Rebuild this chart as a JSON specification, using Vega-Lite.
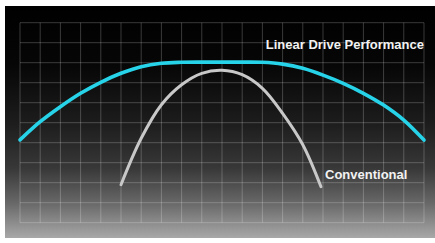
{
  "$schema": "https://vega.github.io/schema/vega-lite/v6.json",
  "width": 430,
  "height": 232,
  "autosize": "none",
  "padding": {"left": 5, "top": 6, "right": 0, "bottom": 5},
  "background": "#ffffff",
  "config": {
    "view": {
      "stroke": null,
      "fill": {
        "gradient": "linear",
        "x1": 0, "y1": 0, "x2": 0, "y2": 1,
        "stops": [
          {"offset": 0, "color": "#000000"},
          {"offset": 0.25, "color": "#060606"},
          {"offset": 0.5, "color": "#1c1c1c"},
          {"offset": 0.7, "color": "#383838"},
          {"offset": 0.85, "color": "#686868"},
          {"offset": 1, "color": "#a8a8a8"}
        ]
      }
    }
  },
  "datasets": {
    "vgrid": [
      {"x": 0}, {"x": 1}, {"x": 2}, {"x": 3}, {"x": 4}, {"x": 5}, {"x": 6}, {"x": 7}, {"x": 8}, {"x": 9}, {"x": 10},
      {"x": 11}, {"x": 12}, {"x": 13}, {"x": 14}, {"x": 15}, {"x": 16}, {"x": 17}, {"x": 18}, {"x": 19}, {"x": 20}
    ],
    "hgrid": [
      {"y": 0}, {"y": 1}, {"y": 2}, {"y": 3}, {"y": 4}, {"y": 5}, {"y": 6}, {"y": 7}, {"y": 8}, {"y": 9}, {"y": 10}
    ],
    "curves": [
      {"series": "Linear Drive Performance", "x": 0, "y": 4.14},
      {"series": "Linear Drive Performance", "x": 1, "y": 5.05},
      {"series": "Linear Drive Performance", "x": 2, "y": 5.8},
      {"series": "Linear Drive Performance", "x": 3, "y": 6.47},
      {"series": "Linear Drive Performance", "x": 4, "y": 7.02},
      {"series": "Linear Drive Performance", "x": 5, "y": 7.47},
      {"series": "Linear Drive Performance", "x": 6, "y": 7.8},
      {"series": "Linear Drive Performance", "x": 7, "y": 7.97},
      {"series": "Linear Drive Performance", "x": 8, "y": 8.02},
      {"series": "Linear Drive Performance", "x": 9, "y": 8.03},
      {"series": "Linear Drive Performance", "x": 10, "y": 8.03},
      {"series": "Linear Drive Performance", "x": 11, "y": 8.03},
      {"series": "Linear Drive Performance", "x": 12, "y": 8.02},
      {"series": "Linear Drive Performance", "x": 13, "y": 7.93},
      {"series": "Linear Drive Performance", "x": 14, "y": 7.72},
      {"series": "Linear Drive Performance", "x": 15, "y": 7.38},
      {"series": "Linear Drive Performance", "x": 16, "y": 6.97},
      {"series": "Linear Drive Performance", "x": 17, "y": 6.47},
      {"series": "Linear Drive Performance", "x": 18, "y": 5.88},
      {"series": "Linear Drive Performance", "x": 19, "y": 5.13},
      {"series": "Linear Drive Performance", "x": 20, "y": 4.13},
      {"series": "Conventional", "x": 5, "y": 1.9},
      {"series": "Conventional", "x": 6, "y": 4.22},
      {"series": "Conventional", "x": 7, "y": 5.9},
      {"series": "Conventional", "x": 8, "y": 6.9},
      {"series": "Conventional", "x": 9, "y": 7.47},
      {"series": "Conventional", "x": 10, "y": 7.62},
      {"series": "Conventional", "x": 11, "y": 7.4},
      {"series": "Conventional", "x": 12, "y": 6.72},
      {"series": "Conventional", "x": 13, "y": 5.47},
      {"series": "Conventional", "x": 14, "y": 3.9},
      {"series": "Conventional", "x": 14.9, "y": 1.8}
    ],
    "labels": [
      {"label": "Linear Drive Performance", "x": 20, "y": 8.67},
      {"label": "Conventional", "x": 15.1, "y": 2.17}
    ]
  },
  "layer": [
    {
      "data": {"name": "vgrid"},
      "mark": {"type": "rule", "color": "#ffffff", "opacity": 0.22, "strokeWidth": 1},
      "encoding": {
        "x": {"field": "x", "type": "quantitative", "scale": {"domain": [-0.7426, 20.545], "nice": false, "zero": false}, "axis": null},
        "y": {"datum": 0, "type": "quantitative", "scale": {"domain": [-0.765, 10.835], "nice": false, "zero": false}, "axis": null},
        "y2": {"datum": 10}
      }
    },
    {
      "data": {"name": "hgrid"},
      "mark": {"type": "rule", "color": "#ffffff", "opacity": 0.22, "strokeWidth": 1},
      "encoding": {
        "y": {"field": "y", "type": "quantitative", "scale": {"domain": [-0.765, 10.835], "nice": false, "zero": false}, "axis": null},
        "x": {"datum": 0, "type": "quantitative", "scale": {"domain": [-0.7426, 20.545], "nice": false, "zero": false}, "axis": null},
        "x2": {"datum": 20}
      }
    },
    {
      "data": {"name": "curves"},
      "mark": {"type": "line", "interpolate": "catmull-rom", "strokeCap": "round", "strokeJoin": "round"},
      "encoding": {
        "x": {"field": "x", "type": "quantitative", "scale": {"domain": [-0.7426, 20.545], "nice": false, "zero": false}, "axis": null},
        "y": {"field": "y", "type": "quantitative", "scale": {"domain": [-0.765, 10.835], "nice": false, "zero": false}, "axis": null},
        "detail": {"field": "series"},
        "color": {"field": "series", "type": "nominal", "scale": {"domain": ["Linear Drive Performance", "Conventional"], "range": ["#27d3e8", "#c8c8c8"]}, "legend": null},
        "strokeWidth": {"field": "series", "type": "nominal", "scale": {"domain": ["Linear Drive Performance", "Conventional"], "range": [3.6, 3]}, "legend": null}
      }
    },
    {
      "data": {"name": "labels"},
      "transform": [{"filter": "datum.label === 'Linear Drive Performance'"}],
      "mark": {"type": "text", "font": "Liberation Sans", "fontWeight": "bold", "fontSize": 13, "baseline": "alphabetic", "align": "right", "color": "#f2f2f2"},
      "encoding": {
        "x": {"field": "x", "type": "quantitative", "scale": {"domain": [-0.7426, 20.545], "nice": false, "zero": false}, "axis": null},
        "y": {"field": "y", "type": "quantitative", "scale": {"domain": [-0.765, 10.835], "nice": false, "zero": false}, "axis": null},
        "text": {"field": "label"}
      }
    },
    {
      "data": {"name": "labels"},
      "transform": [{"filter": "datum.label === 'Conventional'"}],
      "mark": {"type": "text", "font": "Liberation Sans", "fontWeight": "bold", "fontSize": 13, "baseline": "alphabetic", "align": "left", "color": "#f2f2f2"},
      "encoding": {
        "x": {"field": "x", "type": "quantitative", "scale": {"domain": [-0.7426, 20.545], "nice": false, "zero": false}, "axis": null},
        "y": {"field": "y", "type": "quantitative", "scale": {"domain": [-0.765, 10.835], "nice": false, "zero": false}, "axis": null},
        "text": {"field": "label"}
      }
    }
  ]
}
